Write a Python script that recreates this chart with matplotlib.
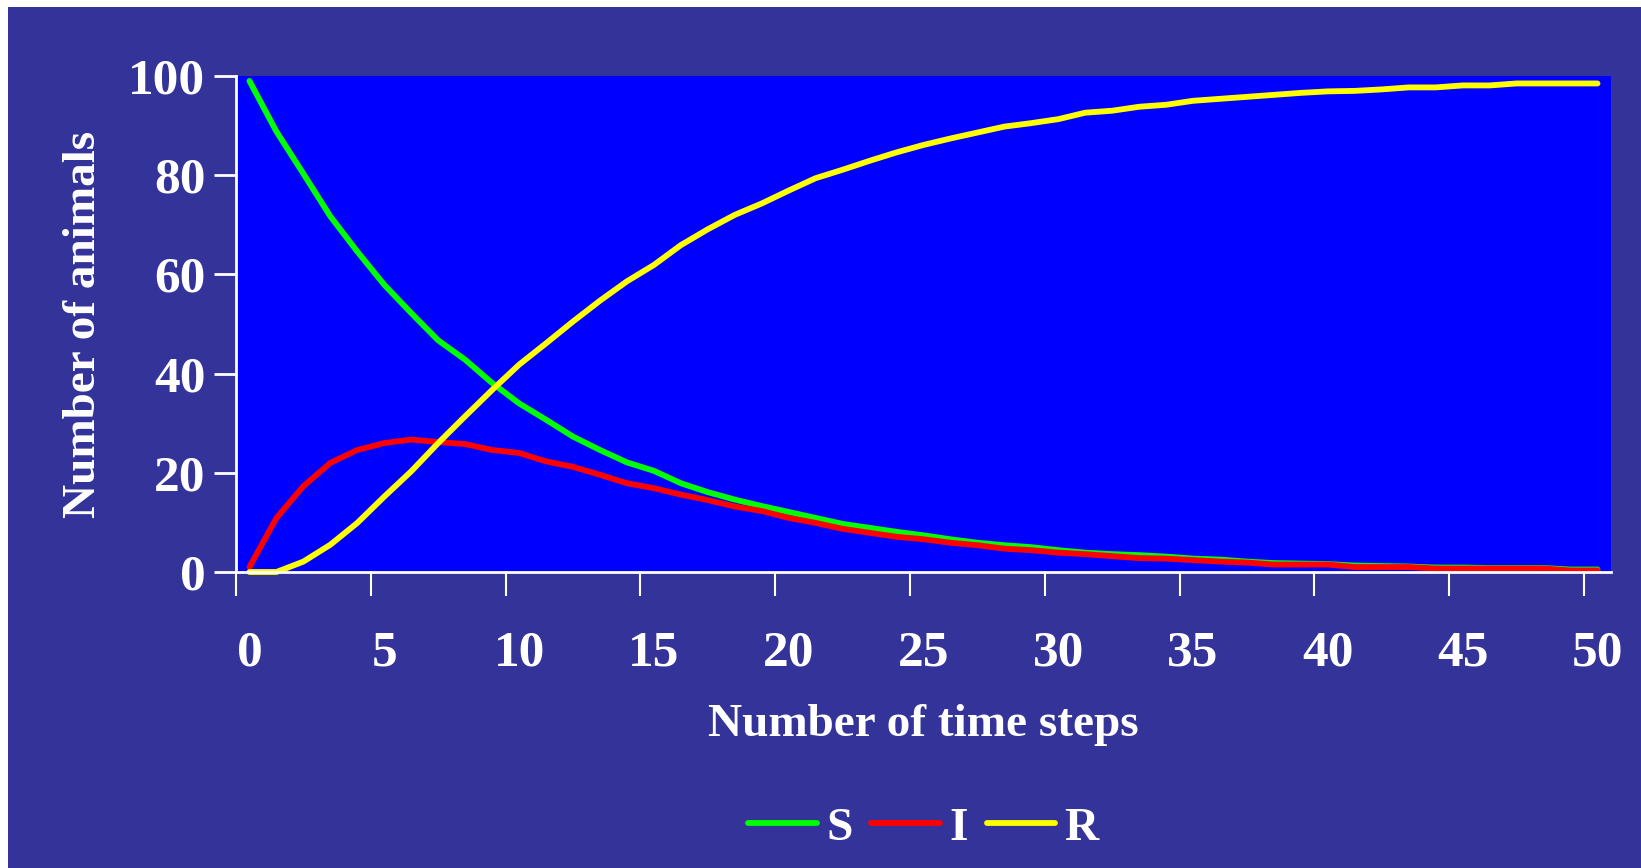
import matplotlib
matplotlib.use("Agg")
import matplotlib.pyplot as plt
from matplotlib.patches import Rectangle

time_steps = list(range(51))
S = [99, 88.8, 80.3, 71.7, 64.6, 57.9, 52.2, 46.7, 42.8, 38.1,
     34.0, 30.7, 27.3, 24.6, 22.1, 20.4, 17.9, 16.1, 14.6, 13.3,
     12.1, 10.9, 9.7, 8.9, 8.1, 7.4, 6.6, 5.9, 5.4, 5.0,
     4.4, 3.9, 3.6, 3.4, 3.1, 2.7, 2.5, 2.1, 1.8, 1.7,
     1.6, 1.3, 1.2, 1.1, 0.9, 0.9, 0.8, 0.8, 0.8, 0.5, 0.5]
I = [1, 10.9, 17.3, 22.0, 24.6, 26.0, 26.7, 26.2, 25.8, 24.6,
     24.0, 22.3, 21.2, 19.6, 17.9, 16.9, 15.6, 14.5, 13.2, 12.3,
     10.9, 9.9, 8.7, 7.9, 7.1, 6.6, 5.9, 5.4, 4.7, 4.4,
     3.9, 3.6, 3.2, 2.8, 2.7, 2.4, 2.1, 1.9, 1.5, 1.5,
     1.5, 1.0, 1.0, 1.0, 0.7, 0.7, 0.7, 0.7, 0.7, 0.3, 0.3]
R = [0, 0, 2.1, 5.5, 9.9, 15.2, 20.3, 26.0, 31.4, 36.7,
     41.8, 46.1, 50.5, 54.7, 58.6, 61.9, 65.9, 69.1, 72.0, 74.3,
     76.9, 79.4, 81.1, 82.9, 84.6, 86.1, 87.4, 88.6, 89.8, 90.5,
     91.3, 92.6, 93.0, 93.8, 94.2, 95.0, 95.4, 95.8, 96.2, 96.6,
     96.9, 97.0, 97.3, 97.7, 97.7, 98.1, 98.1, 98.5, 98.5, 98.5, 98.5]
series_names = ["S", "I", "R"]
series_colors = ["#00FF00", "#FF0000", "#FFFF00"]
y_ticks = [0, 20, 40, 60, 80, 100]
x_labels = [0, 5, 10, 15, 20, 25, 30, 35, 40, 45, 50]

W, H = 1641, 868
FONT = "Liberation Serif"
BG = "#333399"

fig = plt.figure(figsize=(W / 100, H / 100), dpi=100)
fig.patch.set_facecolor("white")
fig.patches.append(Rectangle((8 / W, 0), 1, 1 - 7 / H, transform=fig.transFigure,
                             facecolor=BG, edgecolor="none", zorder=-10))

left, right, top, bottom = 236 / W, 1611 / W, 1 - 76 / H, 1 - 572 / H
ax = fig.add_axes([left, bottom, right - left, top - bottom])
ax.set_facecolor("#0000FF")

for vals, name, col in zip([S, I, R], series_names, series_colors):
    ax.plot(time_steps, vals, color=col, lw=4.2, label=name,
            solid_capstyle="round", solid_joinstyle="round", clip_on=False)

ax.set_xlim(-0.5, 50.5)
ax.set_ylim(0, 100)

for side in ["top", "right"]:
    ax.spines[side].set_visible(False)
for side in ["left", "bottom"]:
    ax.spines[side].set_color("white")
    ax.spines[side].set_linewidth(2)

ax.set_yticks(y_ticks)
ax.set_yticklabels([str(v) for v in y_ticks])
ax.set_xticks([v - 0.5 for v in x_labels[:-1]] + [49.5])
ax.set_xticklabels([])
ax.set_xticks(x_labels, minor=True)
ax.set_xticklabels([str(v) for v in x_labels], minor=True)

ax.tick_params(axis="y", which="major", direction="out", length=16, width=2,
               color="white", labelcolor="white", pad=6, labelsize=37)
ax.tick_params(axis="x", which="major", direction="out", length=17, width=1.5,
               color="white")
ax.tick_params(axis="x", which="minor", length=0, labelcolor="white",
               pad=42, labelsize=37)
for lab in ax.get_yticklabels() + ax.get_xticklabels(minor=True):
    lab.set_fontfamily(FONT)
    lab.set_fontweight("bold")

cx = (left + right) / 2
fig.text(cx, 1 - 725 / H, "Number of time steps", ha="center", va="center",
         color="white", fontsize=34, fontweight="bold", family=FONT)
fig.text(84 / W, (top + bottom) / 2, "Number of animals", ha="center", va="center",
         rotation=90, color="white", fontsize=34, fontweight="bold", family=FONT)

leg = fig.legend(loc="center", bbox_to_anchor=(cx, 1 - 828 / H), ncol=3,
                 frameon=False, handlelength=1.45, handletextpad=0.2,
                 columnspacing=0.4,
                 prop={"family": FONT, "weight": "bold", "size": 34})
for t in leg.get_texts():
    t.set_color("white")

fig.savefig("out.png", dpi=100, facecolor=fig.get_facecolor())
